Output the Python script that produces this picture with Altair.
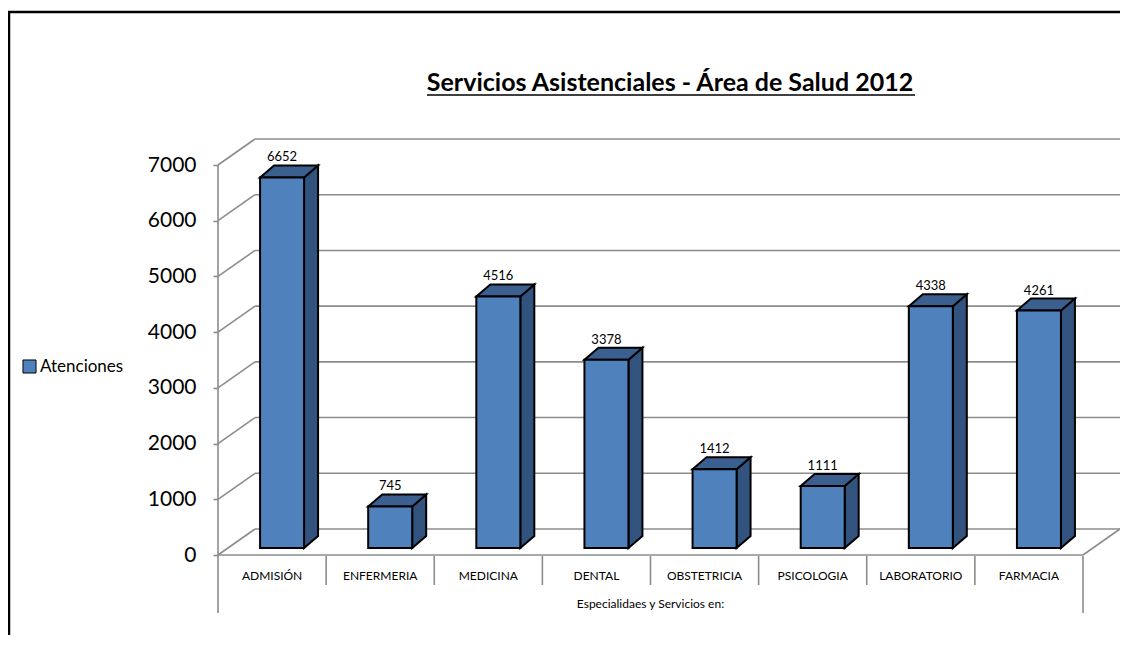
import altair as alt
import pandas as pd

# ---------------- data ----------------
categories = ["ADMISIÓN", "ENFERMERIA", "MEDICINA", "DENTAL",
              "OBSTETRICIA", "PSICOLOGIA", "LABORATORIO", "FARMACIA"]
atenciones = [6652, 745, 4516, 3378, 1412, 1111, 4338, 4261]
y_ticks = [0, 1000, 2000, 3000, 4000, 5000, 6000, 7000]
series_name = "Atenciones"
chart_title = "Servicios Asistenciales - Área de Salud 2012"
x_axis_title = "Especialidaes y Servicios en:"

# ---------------- layout / style (pixels) ----------------
W, H = 902, 416
WALL_DX, WALL_DY = 37, 26          # depth of the 3-D box
BAR_W = 44
BAR_OFF_X, BAR_OFF_Y = 10, 7       # bar front face inset from the front plane
BAR_DX, BAR_DY = 14, 12            # bar depth
FONT = "Lato"
GRID = "#8c8c8c"
FRONT, TOP, SIDE = "#4f81bd", "#3b5f8f", "#31537e"

N = len(categories)
CAT_PX = (W - WALL_DX) / N
Y_TOP = max(y_ticks)
PX_PER_VAL = (H - WALL_DY) / Y_TOP
X_MAX = W / CAT_PX
Y_MAX = H / PX_PER_VAL


def ux(px):
    return px / CAT_PX


def uy(px):
    return px / PX_PER_VAL


xs = alt.Scale(domain=[0, X_MAX], nice=False, zero=False)
ys = alt.Scale(domain=[0, Y_MAX], nice=False, zero=False)
Y_AXIS = alt.Axis(values=y_ticks, format="d", domain=False, grid=False, title=None,
                  tickColor=GRID, tickWidth=1.6, tickSize=5,
                  labelFont=FONT, labelFontSize=21, labelColor="black",
                  labelPadding=17)


def Y(field, **kw):
    return alt.Y(field, scale=ys, axis=Y_AXIS, title=None, **kw)


def X(field, **kw):
    return alt.X(field, scale=xs, axis=None, **kw)


one = alt.Data(values=[{}])

# ---------------- frame: back wall grid, diagonals, floor ----------------
grid = pd.DataFrame({"v": y_ticks})
grid["x0"] = 0.0
grid["xb"] = ux(WALL_DX)
grid["xe"] = N + ux(WALL_DX)
grid["yb"] = grid["v"] + uy(WALL_DY)

diag = alt.Chart(grid).mark_rule(color=GRID, strokeWidth=1.6).encode(
    x=X("x0:Q"), x2="xb:Q", y=Y("v:Q"), y2="yb:Q",
)

back = alt.Chart(grid).mark_rule(color=GRID, strokeWidth=1.6).encode(
    x=X("xb:Q"), x2="xe:Q", y=Y("yb:Q"),
)

frame = pd.DataFrame({
    "x": [0.0, float(N), 0.0],
    "x2": [float(N), N + ux(WALL_DX), 0.0],
    "y": [0.0, 0.0, 0.0],
    "y2": [0.0, uy(WALL_DY), float(Y_TOP)],
})
frame_lines = alt.Chart(frame).mark_rule(color=GRID, strokeWidth=1.6).encode(
    x=X("x:Q"), x2="x2:Q", y=Y("y:Q"), y2="y2:Q",
)

# ---------------- bars ----------------
bars = pd.DataFrame({"cat": categories, "val": atenciones})
bars["serie"] = series_name
bars["i"] = range(N)
bars["xl"] = bars["i"] + 0.5 + ux(BAR_OFF_X) - ux(BAR_W) / 2
bars["xr"] = bars["xl"] + ux(BAR_W)
bars["xc"] = (bars["xl"] + bars["xr"]) / 2
bars["yb"] = uy(BAR_OFF_Y)
bars["yt"] = bars["val"] + uy(BAR_OFF_Y)
bars["ylab"] = bars["yt"] + uy(BAR_DY)

side_rows, top_rows = [], []
for rec in bars.to_dict("records"):
    side_rows.append({"cat": rec["cat"], "x": rec["xr"], "lo": rec["yb"], "hi": rec["yt"]})
    side_rows.append({"cat": rec["cat"], "x": rec["xr"] + ux(BAR_DX),
                      "lo": rec["yb"] + uy(BAR_DY), "hi": rec["yt"] + uy(BAR_DY)})
    top_rows.append({"cat": rec["cat"], "y": rec["yt"], "a": rec["xl"], "b": rec["xr"]})
    top_rows.append({"cat": rec["cat"], "y": rec["yt"] + uy(BAR_DY),
                     "a": rec["xl"] + ux(BAR_DX), "b": rec["xr"] + ux(BAR_DX)})
side_df = pd.DataFrame(side_rows)
top_df = pd.DataFrame(top_rows)

side = alt.Chart(side_df).mark_area(
    orient="vertical", fill=SIDE, stroke="black", strokeWidth=2, strokeJoin="miter"
).encode(
    x=X("x:Q"), y=Y("lo:Q", stack=None), y2="hi:Q", detail="cat:N",
)

top = alt.Chart(top_df).mark_area(
    orient="horizontal", fill=TOP, stroke="black", strokeWidth=2, strokeJoin="miter"
).encode(
    y=Y("y:Q"), x=X("a:Q", stack=None), x2="b:Q", detail="cat:N",
)

front = alt.Chart(bars).mark_rect(stroke="black", strokeWidth=2).encode(
    x=X("xl:Q"), x2="xr:Q", y=Y("yb:Q"), y2="yt:Q",
    color=alt.Color("serie:N", scale=alt.Scale(range=[FRONT]),
                    legend=alt.Legend(title=None, orient="none",
                                      legendX=-197, legendY=219,
                                      symbolType="square", symbolSize=170,
                                      symbolStrokeColor="black",
                                      symbolStrokeWidth=1,
                                      labelFont=FONT, labelFontSize=17,
                                      labelColor="black", labelOffset=2)),
)

value_labels = alt.Chart(bars).mark_text(
    font=FONT, fontSize=13, color="black", baseline="alphabetic", dy=-4
).encode(
    x=X("xc:Q"), y=Y("ylab:Q"), text="val:Q",
)

# ---------------- category axis (drawn) ----------------
cats = pd.DataFrame({"cat": categories, "xm": [i + 0.5 for i in range(N)]})
cat_labels = alt.Chart(cats).mark_text(
    font=FONT, fontSize=12, color="black", baseline="middle"
).encode(
    x=X("xm:Q"), y=alt.value(H + 21), text="cat:N",
)

inner = pd.DataFrame({"xd": list(range(1, N))})
outer = pd.DataFrame({"xd": [0, N]})
inner_div = alt.Chart(inner).mark_rule(color=GRID, strokeWidth=1.6).encode(
    x=X("xd:Q"), y=alt.value(H + 1), y2=alt.value(H + 30),
)
outer_div = alt.Chart(outer).mark_rule(color=GRID, strokeWidth=1.6).encode(
    x=X("xd:Q"), y=alt.value(H + 1), y2=alt.value(H + 58),
)
x_title = alt.Chart(pd.DataFrame({"t": [x_axis_title], "xm": [N / 2]})).mark_text(
    font=FONT, fontSize=12, color="black", baseline="middle"
).encode(
    x=X("xm:Q"), y=alt.value(H + 49), text="t:N",
)

# ---------------- title and outer border ----------------
title = alt.Chart(pd.DataFrame({"t": [chart_title]})).mark_text(
    font=FONT, fontSize=25, fontWeight="bold", color="black",
    baseline="alphabetic", align="center"
).encode(x=alt.value(452), y=alt.value(-48), text="t:N")

underline = alt.Chart(one).mark_rule(color="black", strokeWidth=1.5).encode(
    x=alt.value(209), x2=alt.value(697), y=alt.value(-44)
)

border_left = alt.Chart(one).mark_rule(color="black", strokeWidth=2.5).encode(
    x=alt.value(-209), y=alt.value(-128), y2=alt.value(H + 200),
)
border_top = alt.Chart(one).mark_rule(color="black", strokeWidth=2.5).encode(
    x=alt.value(-210), x2=alt.value(W + 200), y=alt.value(-127),
)

chart = alt.layer(
    diag, back, frame_lines, inner_div, outer_div,
    side, top, front, value_labels, cat_labels, x_title, title, underline,
    border_left, border_top,
).properties(
    width=W, height=H,
    autosize=alt.AutoSizeParams(type="none"),
    padding={"left": 210, "top": 131, "right": 0, "bottom": 80},
).configure_view(stroke=None)

chart.save("out.html", embed_options={"renderer": "svg", "actions": False})
